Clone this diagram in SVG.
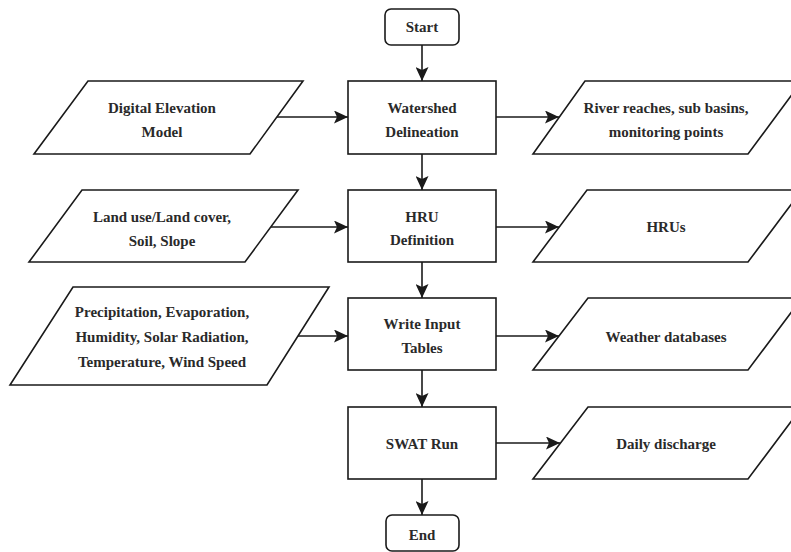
<svg xmlns="http://www.w3.org/2000/svg" width="791" height="552" viewBox="0 0 791 552">
<defs>
<marker id="ah" markerWidth="14" markerHeight="13" refX="14" refY="6.5" orient="auto" markerUnits="userSpaceOnUse">
<path d="M0,0 L14,6.5 L0,13 L3,6.5 Z" fill="#1a1a1a"/>
</marker>
<style>
.s{fill:#fff;stroke:#1a1a1a;stroke-width:1.6}
.t{font-family:'Liberation Serif','DejaVu Serif',serif;font-size:15px;font-weight:bold;fill:#2a2a2a;text-anchor:middle}
.c{fill:none;stroke:#1a1a1a;stroke-width:1.6;marker-end:url(#ah)}
</style>
</defs>
<rect width="791" height="552" fill="#fff"/>
<g id="connectors">
<line class="c" x1="422" y1="45" x2="422" y2="81"/>
<line class="c" x1="422" y1="154" x2="422" y2="190"/>
<line class="c" x1="422" y1="262" x2="422" y2="298"/>
<line class="c" x1="422" y1="370" x2="422" y2="407"/>
<line class="c" x1="422" y1="479" x2="422" y2="515"/>
<line class="c" x1="277" y1="117" x2="348" y2="117"/>
<line class="c" x1="271" y1="227" x2="348" y2="227"/>
<line class="c" x1="298" y1="336" x2="348" y2="336"/>
<line class="c" x1="496" y1="117" x2="559" y2="117"/>
<line class="c" x1="496" y1="227" x2="559" y2="227"/>
<line class="c" x1="496" y1="336" x2="559" y2="336"/>
<line class="c" x1="496" y1="443" x2="560" y2="443"/>
</g>
<g id="start">
<rect class="s" x="385" y="9" width="74" height="36" rx="6"/>
<text class="t" x="422" y="32" font-family="Liberation Serif, serif">Start</text>
</g>
<g id="watershed">
<rect class="s" x="348" y="81" width="148" height="73"/>
<text class="t" x="422" y="113">Watershed</text>
<text class="t" x="422" y="137">Delineation</text>
</g>
<g id="hru">
<rect class="s" x="348" y="190" width="148" height="72"/>
<text class="t" x="422" y="222">HRU</text>
<text class="t" x="422" y="245">Definition</text>
</g>
<g id="write">
<rect class="s" x="348" y="298" width="148" height="72"/>
<text class="t" x="422" y="329">Write Input</text>
<text class="t" x="422" y="353">Tables</text>
</g>
<g id="swat">
<rect class="s" x="348" y="407" width="148" height="72"/>
<text class="t" x="422" y="449">SWAT Run</text>
</g>
<g id="end">
<rect class="s" x="386" y="515" width="73" height="36" rx="6"/>
<text class="t" x="422" y="540">End</text>
</g>
<g id="dem">
<polygon class="s" points="88,81 303,81 250,154 34,154"/>
<text class="t" x="162" y="113">Digital Elevation</text>
<text class="t" x="162" y="137">Model</text>
</g>
<g id="landuse">
<polygon class="s" points="82,190 298,190 245,262 29,262"/>
<text class="t" x="162" y="222">Land use/Land cover,</text>
<text class="t" x="162" y="246">Soil, Slope</text>
</g>
<g id="weatherin">
<polygon class="s" points="73,287 329,287 267,385 10,385"/>
<text class="t" x="162" y="317">Precipitation, Evaporation,</text>
<text class="t" x="162" y="342">Humidity, Solar Radiation,</text>
<text class="t" x="162" y="367">Temperature, Wind Speed</text>
</g>
<g id="river">
<polygon class="s" points="585,81 802,81 748,154 533,154"/>
<text class="t" x="666" y="113">River reaches, sub basins,</text>
<text class="t" x="666" y="137">monitoring points</text>
</g>
<g id="hrus">
<polygon class="s" points="587,190 802,190 748,262 533,262"/>
<text class="t" x="666" y="232">HRUs</text>
</g>
<g id="weatherdb">
<polygon class="s" points="588,298 802,298 748,370 533,370"/>
<text class="t" x="666" y="342">Weather databases</text>
</g>
<g id="daily">
<polygon class="s" points="588,407 802,407 748,479 533,479"/>
<text class="t" x="666" y="449">Daily discharge</text>
</g>
</svg>
